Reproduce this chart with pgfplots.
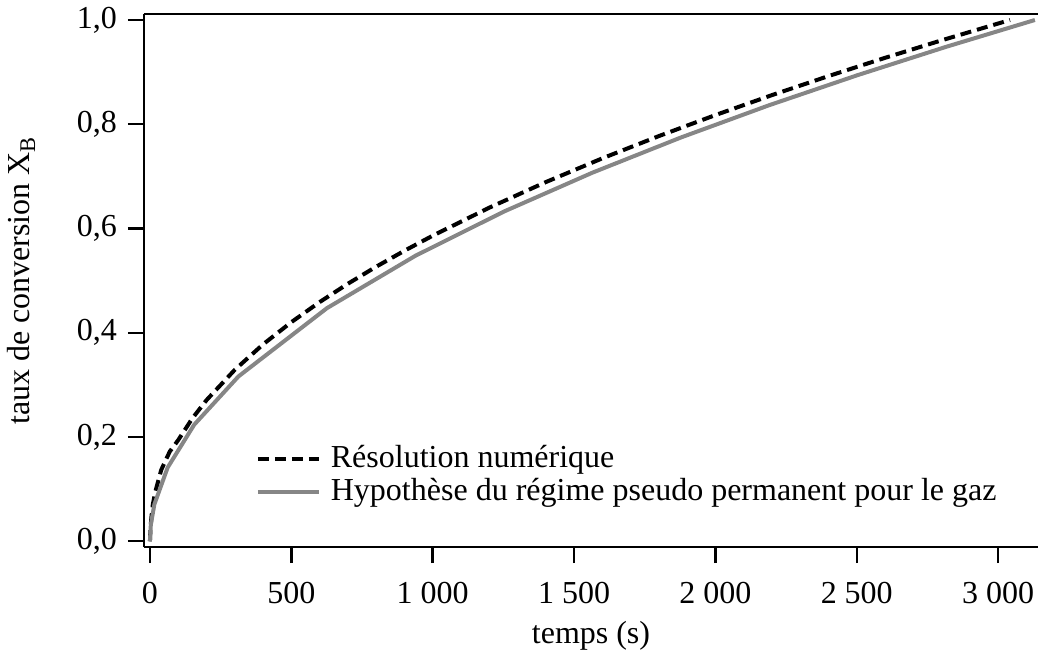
\documentclass[border=0pt]{standalone}
\usepackage{fontspec}
\setmainfont{Liberation Serif}
\usepackage{pgfplots}
\pgfplotsset{compat=1.18}
\pgfplotstableread{
t X
0 0
2 0.025
5 0.045
10 0.070
20 0.097
40 0.137
70 0.172
100 0.1941
150 0.2358
200 0.2707
300 0.3289
400 0.3777
500 0.4203
600 0.4588
700 0.4940
800 0.5267
900 0.5573
1000 0.5862
1200 0.6399
1400 0.6890
1600 0.7346
1800 0.7773
2000 0.8176
2200 0.8559
2400 0.8924
2600 0.9274
2800 0.9610
3042 1.0
}\numtab
\pgfplotstableread{
t X
0 0
3.13 0.0316
15.65 0.0707
62.6 0.1414
156.5 0.2236
313 0.3162
626 0.4472
939 0.5477
1252 0.6325
1565 0.7071
1878 0.7746
2191 0.8367
2504 0.8944
2817 0.9487
3130 1.0
}\pseudotab
\begin{document}
\fontsize{16}{19}\selectfont
\begin{tikzpicture}
\begin{axis}[
  scale only axis, width=447pt, height=266.5pt,
  xmin=-21, xmax=3141, ymin=-0.011, ymax=1.0115,
  axis lines=left, axis line style={-, line width=1.2pt},
  clip=false,
  tick align=outside, major tick length=8pt,
  tick style={line width=1.2pt, black},
  xtick={0,500,1000,1500,2000,2500,3000},
  ytick={0,0.2,0.4,0.6,0.8,1.0},
  /pgf/number format/assume math mode=true,
  xticklabel style={/pgf/number format/.cd, 1000 sep={\ }, fixed, /tikz/.cd, yshift=-4pt},
  yticklabel style={/pgf/number format/.cd, use comma, fixed, fixed zerofill, precision=1},
  ticklabel style={font=\fontsize{16}{19}\selectfont},
  xlabel={temps (s)}, ylabel={taux de conversion X\textsubscript{B}},
  label style={font=\fontsize{16}{19}\selectfont},
  xlabel style={yshift=2pt},
  ylabel style={yshift=10pt},
  legend style={draw=none, fill=none, at={(0.118,0.062)}, anchor=south west,
    font=\fontsize{16}{19}\selectfont, row sep=-1pt, column sep=3pt},
  legend cell align=left,
  legend image code/.code={\draw[#1] (0pt,0pt) -- (30.5pt,0pt);},
]
\addplot[black, line width=2pt, dash pattern=on 5.5pt off 3pt] table[x=t,y=X] {\numtab};
\addlegendentry{Résolution numérique}
\addplot[gray!95, line width=2pt] table[x=t,y=X] {\pseudotab};
\addlegendentry{Hypothèse du régime pseudo permanent pour le gaz}
\draw[line width=1.2pt] (rel axis cs:0,1) -- (rel axis cs:1,1);
\coordinate (SW) at (rel axis cs:0,0);
\coordinate (NE) at (rel axis cs:1,1);
\end{axis}
\pgfresetboundingbox
\path ([xshift=-72pt,yshift=-51pt]SW) rectangle ([yshift=7pt]NE);
\end{tikzpicture}
\end{document}
